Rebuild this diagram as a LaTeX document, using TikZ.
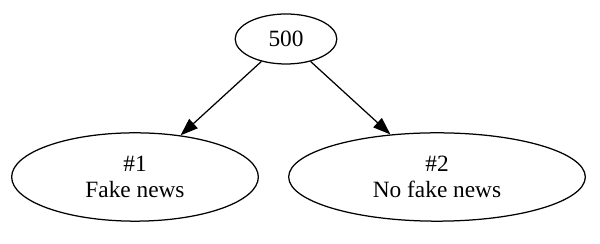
\documentclass[tikz,border=0pt]{standalone}
\usepackage{fontspec}
\setmainfont{Liberation Serif}
\usetikzlibrary{shapes.geometric, arrows.meta}

\begin{document}
\begin{tikzpicture}[x=0.6pt, y=-0.6pt,
    treenode/.style={draw, ellipse, line width=0.75pt, inner sep=0pt, font=\fontsize{14}{16}\selectfont, align=center},
    treeedge/.style={line width=0.75pt, -{Triangle[length=10.5pt, width=7.5pt]}}]
            % Fix the page size
            \useasboundingbox (0,0) rectangle (600,244);
            % Root node
            \node[treenode, minimum width=61pt, minimum height=30pt] (root) at (286,39) {500};
            % Leaf nodes
            \node[treenode, minimum width=148pt, minimum height=53pt] (fake) at (135,177) {\#1\\Fake news};
            \node[treenode, minimum width=178pt, minimum height=53pt] (nofake) at (437,177) {\#2\\No fake news};
            % Edges
            \draw[treeedge] (root) -- (fake);
            \draw[treeedge] (root) -- (nofake);
        \end{tikzpicture}
\end{document}
